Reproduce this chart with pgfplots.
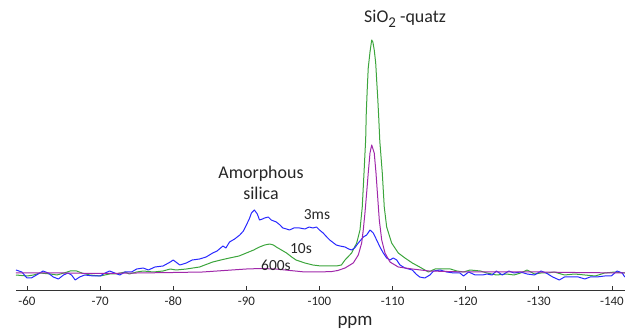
\documentclass[border=0pt]{standalone}
\usepackage{pgfplots}
\pgfplotsset{compat=1.18}
\usepackage{fontspec}
\setmainfont{Carlito}
\definecolor{cblue}{RGB}{40,40,255}
\definecolor{cgreen}{RGB}{60,165,60}
\definecolor{cmag}{RGB}{160,40,170}
\definecolor{ctxt}{RGB}{38,38,38}
\begin{document}
\begin{tikzpicture}
\begin{axis}[
  at={(16bp,38.5bp)}, anchor=south west,
  scale only axis, width=609bp, height=290.5bp,
  x dir=reverse, xmin=-141.78, xmax=-58.5,
  ymin=-18.5, ymax=272,
  axis x line=bottom, axis y line=none,
  x axis line style={-, draw=black!80, line width=0.8bp},
  xtick={-60,-70,-80,-90,-100,-110,-120,-130,-140},
  xticklabels={-60,-70,-80,-90,-100,-110,-120,-130,-140},
  tick align=inside, major tick length=4bp,
  tick style={draw=black!80, line width=0.8bp},
  xticklabel style={font=\fontsize{13}{14}\selectfont, text=ctxt, yshift=-3bp},
  clip=false,
  every axis plot/.append style={line width=1bp, line join=round},
]
\addplot[cgreen, no marks] coordinates {
(-58.5,-3) (-60.0,-4) (-60.9,-3) (-61.8,-1) (-63.2,-2) (-64.1,-3) (-65.5,0) (-65.9,1) (-66.8,1) (-67.5,-1) (-68.6,-3) (-70.0,-4) (-71.3,-2) (-72.2,-2) (-73.4,0) (-74.0,-2) (-75.0,0) (-75.9,1) (-77.3,0) (-78.6,1) (-79.6,3) (-80.4,2) (-81.8,3) (-83.6,5) (-85.4,10) (-86.5,12) (-87.7,14) (-89.0,16) (-90.0,19) (-91.0,22) (-91.8,25) (-92.5,27) (-93.2,28) (-93.7,27) (-94.1,25) (-94.8,22) (-95.5,19) (-96.2,15) (-96.8,12) (-98.0,9) (-99.1,7) (-100.2,6) (-101.4,6) (-102.3,6) (-103.0,7) (-103.49,12) (-104.40,19) (-105.09,29) (-105.54,42) (-105.85,65) (-106.09,99) (-106.32,133) (-106.40,159) (-106.54,184) (-106.67,204) (-106.91,220) (-107.14,232) (-107.30,230) (-107.49,222) (-107.69,209) (-107.82,192) (-107.96,175) (-108.10,155) (-108.25,131) (-108.59,99) (-108.86,65) (-109.19,45) (-109.87,29) (-110.78,19) (-111.69,14) (-112.7,9) (-113.7,5) (-114.9,0) (-115.8,3) (-117.9,3) (-118.8,1) (-119.7,0) (-120.6,2) (-122.0,1) (-122.9,-1) (-124.2,-3) (-125.6,-2) (-126.6,-3) (-127.5,-1) (-128.4,2) (-129.4,-2) (-130.3,-1) (-131.2,-1) (-132.1,0) (-133.5,-3) (-134.9,-2) (-136.3,-3) (-137.7,-4) (-139.0,-1) (-140.4,0) (-141.75,-1)
};
\addplot[cblue, no marks] coordinates {
(-58.5,2) (-59.3,0) (-60.0,-6) (-60.6,-6) (-61.3,-3) (-62.2,1) (-62.9,-1) (-63.6,-5) (-64.3,-7) (-65.0,-3) (-65.6,-1) (-66.1,-3) (-66.6,-8) (-67.2,-5) (-67.9,-3) (-69.1,-4) (-70.0,-4) (-70.7,-1) (-71.3,1) (-72.0,-1) (-72.7,-3) (-73.4,0) (-74.3,0) (-75.0,3) (-75.9,4) (-76.6,2) (-77.5,5) (-78.6,6) (-79.6,10) (-80.0,12) (-80.9,7) (-81.8,9) (-82.6,12) (-83.6,13) (-84.5,15) (-85.4,19) (-86.0,21) (-86.8,26) (-87.2,24) (-87.7,30) (-88.4,33) (-89.1,37) (-89.6,41) (-90.0,47) (-90.4,53) (-90.7,59) (-91.1,62) (-91.5,58) (-91.8,52) (-92.2,53) (-92.5,54) (-93.0,55) (-93.4,52) (-94.1,50) (-94.6,47) (-95.0,44) (-95.5,43) (-95.9,42) (-96.5,44) (-97.3,44) (-98.0,43) (-98.6,45) (-99.1,44) (-99.6,45) (-100.0,42) (-100.5,39) (-101.0,35) (-101.4,32) (-102.3,27) (-102.8,26) (-103.49,25) (-104.0,23) (-104.40,22) (-104.8,24) (-105.31,29) (-105.99,35) (-106.45,37) (-106.91,42) (-107.36,39) (-107.82,32) (-108.27,25) (-108.73,19) (-109.19,14) (-109.64,12) (-110.09,14) (-110.56,12) (-111.01,7) (-111.69,4) (-112.7,2) (-113.2,-2) (-113.7,-5) (-114.4,-6) (-115.1,-3) (-115.6,1) (-116.5,2) (-117.4,0) (-118.4,-1) (-119.2,-1) (-119.7,-4) (-120.4,0) (-121.3,-3) (-122.3,-3) (-122.9,-2) (-123.6,-3) (-124.2,1) (-125.0,-3) (-125.9,1) (-126.6,-1) (-127.5,0) (-128.4,-2) (-129.4,-3) (-130.3,1) (-131.0,-1) (-131.9,-5) (-132.8,-8) (-133.5,-5) (-134.5,-5) (-135.4,-5) (-136.3,-7) (-137.0,-5) (-137.9,-5) (-139.0,-4) (-139.9,-4) (-140.7,1) (-141.4,-1) (-141.75,-5)
};
\addplot[cmag, no marks] coordinates {
(-58.5,-1) (-65,-1) (-70,-1.5) (-75,-1) (-80,-0.5) (-84,0) (-86,1) (-88,2) (-90,3) (-92,3.5) (-94,3) (-96,1.5) (-98,0) (-100,0) (-101.7,0.5) (-102.5,1.5) (-103.49,4) (-104.62,9) (-105.31,17) (-105.77,29) (-105.99,42) (-106.22,59) (-106.45,79) (-106.67,99) (-106.91,119) (-107.14,127) (-107.49,119) (-107.73,99) (-107.96,75) (-108.18,52) (-108.51,32) (-108.96,19) (-109.64,10) (-110.78,5) (-112.7,3) (-115,1) (-120,0) (-125,0) (-130,0) (-135,-0.5) (-141.75,-1)
};
\node[text=ctxt, font=\fontsize{18}{20}\selectfont] at (axis cs:-111.7,253) {SiO\raisebox{-5bp}{\fontsize{15}{15}\selectfont 2} -quatz};
\node[text=ctxt, font=\fontsize{18}{21}\selectfont, align=center] at (axis cs:-92.0,89) {Amorphous\\silica};
\node[text=ctxt, font=\fontsize{15.5}{17}\selectfont] at (axis cs:-99.66,57) {3ms};
\node[text=ctxt, font=\fontsize{15.5}{17}\selectfont] at (axis cs:-97.47,23) {10s};
\node[text=ctxt, font=\fontsize{15.5}{17}\selectfont] at (axis cs:-94.05,7) {600s};
\node[text=ctxt, font=\fontsize{19}{21}\selectfont] at (axis cs:-104.86,-50) {ppm};
\end{axis}
\pgfresetboundingbox
\path[use as bounding box] (0,0) rectangle (625bp,329bp);
\end{tikzpicture}
\end{document}
